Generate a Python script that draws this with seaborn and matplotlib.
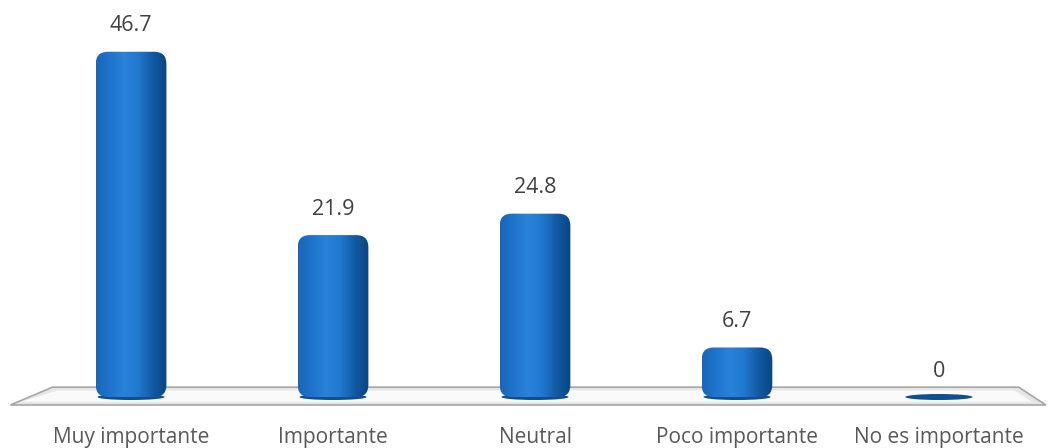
import numpy as np
import pandas as pd
import matplotlib
matplotlib.use('Agg')
import matplotlib.pyplot as plt
import seaborn as sns
from matplotlib.patches import FancyBboxPatch, Polygon, Ellipse
from matplotlib.colors import LinearSegmentedColormap

categories = ['Muy importante', 'Importante', 'Neutral', 'Poco importante', 'No es importante']
values = [46.7, 21.9, 24.8, 6.7, 0]
value_labels = ['46.7', '21.9', '24.8', '6.7', '0']

df = pd.DataFrame({'cat': categories, 'val': values})

sns.set_style('white')
plt.rcParams['font.family'] = ['Open Sans', 'DejaVu Sans']

fig = plt.figure(figsize=(10.48, 4.48), dpi=100)
ax = fig.add_axes([0, 0.096, 1, 0.904])

sns.barplot(data=df, x='cat', y='val', color='#1a6fc4', width=0.35, ax=ax, zorder=3)

ax.set_xlim(-0.649, 4.54)
ax.set_ylim(-1.08, 53.7)

# floor plane (axes coords)
floor = Polygon([[0.010, 0.0], [0.998, 0.0], [0.972, 0.044], [0.050, 0.044]],
                closed=True, transform=ax.transAxes, facecolor='#e6e6e6',
                edgecolor='#a6a6a6', lw=1.2, zorder=1, clip_on=False)
ax.add_patch(floor)
# lighter inner part
strip = Polygon([[0.020, 0.008], [0.985, 0.008], [0.968, 0.036], [0.055, 0.036]],
                closed=True, transform=ax.transAxes, facecolor='#fafafa',
                edgecolor='none', zorder=1.5, clip_on=False)
ax.add_patch(strip)

grad = LinearSegmentedColormap.from_list(
    'bar', ['#1a66b8', '#1f74cc', '#2a82d9', '#2078cf', '#125aa3', '#0b4482'])
grad_img = np.linspace(0, 1, 256).reshape(1, -1)

# px per data unit (for rounding aspect)
x_px = 1048 / (4.54 + 0.649)
y_px = 448 * 0.904 / (53.7 + 1.08)

for patch, v in zip(list(ax.patches), values):
    x0, w = patch.get_x(), patch.get_width()
    patch.set_visible(False)
    r = 0.06
    h = max(v, 0)
    # base ellipse (bottom of the cylinder / flat top when zero)
    base = Ellipse((x0 + w / 2, 0.0), w * 0.95, 6 / y_px, facecolor='#0d4f8f',
                   edgecolor='none', zorder=2.5)
    ax.add_patch(base)
    if h <= 0:
        continue
    box = FancyBboxPatch((x0, 0), w, h,
                         boxstyle=f'round,pad=0,rounding_size={r}',
                         mutation_aspect=x_px / y_px,
                         facecolor='none', edgecolor='none', zorder=3)
    ax.add_patch(box)
    im = ax.imshow(grad_img, cmap=grad, aspect='auto',
                   extent=(x0, x0 + w, 0, h), zorder=3, interpolation='bicubic')
    im.set_clip_path(box)

for i, (v, lab) in enumerate(zip(values, value_labels)):
    ax.annotate(lab, (i, v), xytext=(0, 11), textcoords='offset points',
                ha='center', va='bottom', fontsize=15.5, color='#404040')

ax.set_xlabel('')
ax.set_ylabel('')
ax.set_yticks([])
ax.tick_params(axis='x', length=0, pad=16, labelsize=15, labelcolor='#595959')
for s in ax.spines.values():
    s.set_visible(False)

fig.savefig('out.png', dpi=100)
